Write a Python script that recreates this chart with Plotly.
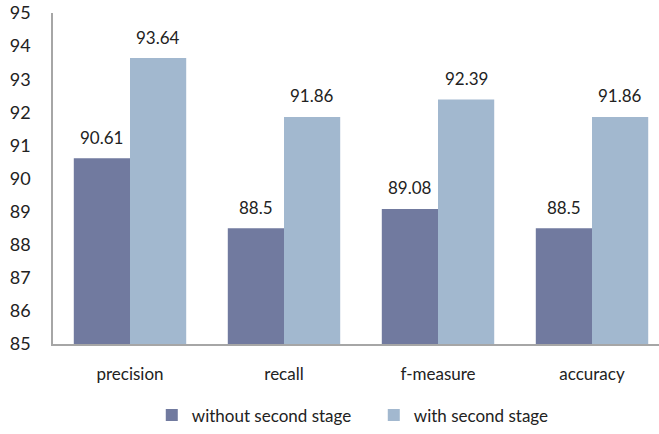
import plotly.graph_objects as go

categories = ["precision", "recall", "f-measure", "accuracy"]
without_second = [90.61, 88.5, 89.08, 88.5]
with_second = [93.64, 91.86, 92.39, 91.86]
series_names = ["without second stage", "with second stage"]
y_ticks = list(range(85, 96))

dark = "#717a9f"
light = "#a2b8cf"
font_family = "Lato, 'Open Sans', sans-serif"

fig = go.Figure()
fig.add_trace(go.Bar(x=categories, y=[v - 85 for v in without_second], base=85,
                     name=series_names[0], marker=dict(color=dark, line=dict(width=0)),
                     offsetgroup=0))
fig.add_trace(go.Bar(x=categories, y=[v - 85 for v in with_second], base=85,
                     name=series_names[1], marker=dict(color=light, line=dict(width=0)),
                     offsetgroup=1))

# value labels above each bar
for i, cat in enumerate(categories):
    for vals, shift in ((without_second, -0.182), (with_second, 0.182)):
        fig.add_annotation(x=i + shift, y=vals[i], xref="x", yref="y",
                           text=f"{vals[i]:g}", showarrow=False, yshift=21,
                           font=dict(size=17, color="#222222", family=font_family))

fig.update_layout(
    width=659, height=434,
    margin=dict(l=53, r=0, t=13, b=87),
    paper_bgcolor="white", plot_bgcolor="white",
    barmode="group", bargap=0.27, bargroupgap=0,
    font=dict(family=font_family, color="#222222"),
    showlegend=True,
    legend=dict(orientation="h", x=0.163, xanchor="left", y=-0.216, yanchor="middle",
                font=dict(size=17), itemsizing="constant", traceorder="normal",
                itemwidth=30, entrywidth=177, entrywidthmode="pixels"),
    xaxis=dict(type="category", range=[-0.5, 3.435], showgrid=False,
               showline=True, linecolor="#a6a6a6", linewidth=1.5,
               ticks="", tickfont=dict(size=17), ticklabelstandoff=14),
    yaxis=dict(range=[85, 95], tickvals=y_ticks, showgrid=False,
               showline=True, linecolor="#a6a6a6", linewidth=1.5,
               ticks="", tickfont=dict(size=18), ticklabelstandoff=17,
               zeroline=False),
)

fig.write_html("out.html")
